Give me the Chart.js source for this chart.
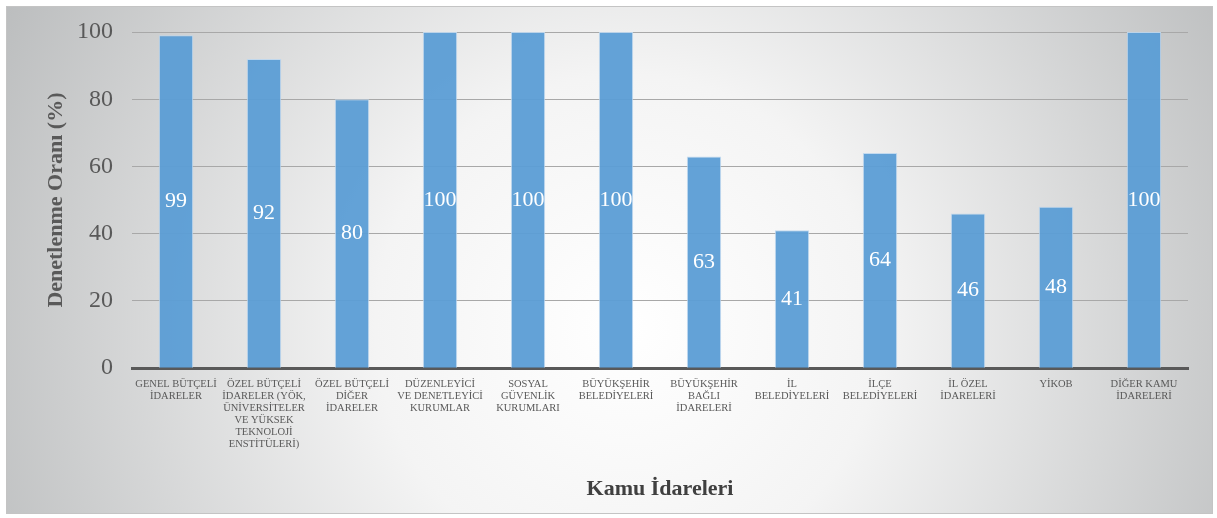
<!DOCTYPE html>
<html>
<head>
<meta charset="utf-8">
<script src="https://cdn.jsdelivr.net/npm/chart.js@4"></script>
<style>
  body { margin: 0; background: #fff; }
  #frame { position: absolute; left: 6px; top: 6px; width: 1205px; height: 506px; border: 1px solid #c4c4c4; }
</style>
</head>
<body>
<div id="frame"><canvas id="chart" width="1205" height="506"></canvas></div>
<script>
// category labels, split in lines like the original
const categories = [
  ['GENEL BÜTÇELİ', 'İDARELER'],
  ['ÖZEL BÜTÇELİ', 'İDARELER (YÖK,', 'ÜNİVERSİTELER', 'VE YÜKSEK', 'TEKNOLOJİ', 'ENSTİTÜLERİ)'],
  ['ÖZEL BÜTÇELİ', 'DİĞER', 'İDARELER'],
  ['DÜZENLEYİCİ', 'VE DENETLEYİCİ', 'KURUMLAR'],
  ['SOSYAL', 'GÜVENLİK', 'KURUMLARI'],
  ['BÜYÜKŞEHİR', 'BELEDİYELERİ'],
  ['BÜYÜKŞEHİR', 'BAĞLI', 'İDARELERİ'],
  ['İL', 'BELEDİYELERİ'],
  ['İLÇE', 'BELEDİYELERİ'],
  ['İL ÖZEL', 'İDARELERİ'],
  ['YİKOB'],
  ['DİĞER KAMU', 'İDARELERİ']
];
const rates = [99, 92, 80, 100, 100, 100, 63, 41, 64, 46, 48, 100];
const yTicks = [0, 20, 40, 60, 80, 100];

// gray-white radial background
const background = {
  id: 'background',
  beforeDraw(chart) {
    const ctx = chart.ctx;
    const w = chart.width, h = chart.height;
    const g = ctx.createRadialGradient(620, 320, 0, 620, 320, 720);
    g.addColorStop(0, '#ffffff');
    g.addColorStop(0.35, '#f4f4f4');
    g.addColorStop(1, '#b9bbbc');
    ctx.save();
    ctx.fillStyle = g;
    ctx.fillRect(0, 0, w, h);
    ctx.restore();
  }
};

// values written in the middle of each bar
const barLabels = {
  id: 'barLabels',
  afterDatasetsDraw(chart) {
    const ctx = chart.ctx;
    const meta = chart.getDatasetMeta(0);
    ctx.save();
    ctx.fillStyle = '#ffffff';
    ctx.font = '22px "Liberation Serif"';
    ctx.textAlign = 'center';
    ctx.textBaseline = 'middle';
    meta.data.forEach((bar, i) => {
      ctx.fillText(String(rates[i]), bar.x, (bar.y + bar.base) / 2);
    });
    ctx.restore();
  }
};

new Chart(document.getElementById('chart'), {
  type: 'bar',
  data: {
    labels: categories,
    datasets: [{
      data: rates,
      backgroundColor: 'rgba(91,157,213,0.95)',
      borderColor: 'rgba(190,215,238,0.9)',
      borderWidth: 1,
      categoryPercentage: 1,
      barPercentage: 0.39
    }]
  },
  options: {
    responsive: false,
    animation: false,
    layout: { padding: { top: 25, right: 24, bottom: 10, left: 0 } },
    plugins: { legend: { display: false }, tooltip: { enabled: false } },
    scales: {
      x: {
        grid: { display: false },
        border: { color: '#595959', width: 3 },
        ticks: {
          maxRotation: 0,
          autoSkip: false,
          padding: 2,
          color: '#595959',
          font: { family: 'Liberation Serif', size: 10.5, lineHeight: 1.15 }
        },
        title: {
          display: true,
          text: 'Kamu İdareleri',
          color: '#404040',
          padding: { top: 24, bottom: 0 },
          font: { family: 'Liberation Serif', size: 22, weight: 'bold' }
        }
      },
      y: {
        min: 0,
        max: 100,
        afterBuildTicks(scale) { scale.ticks = yTicks.map(v => ({ value: v })); },
        afterFit(scale) {
          scale.width = 125;
          scale.paddingTop = 0;
          scale.paddingBottom = 0;
        },
        border: { display: false },
        grid: { color: '#a8a8a8', lineWidth: 1, drawTicks: false },
        ticks: {
          padding: 19,
          color: '#595959',
          font: { family: 'Liberation Serif', size: 24 }
        },
        title: {
          display: true,
          text: 'Denetlenme Oranı (%)',
          color: '#595959',
          padding: { top: 36, bottom: 0 },
          font: { family: 'Liberation Serif', size: 22, weight: 'bold' }
        }
      }
    }
  },
  plugins: [background, barLabels]
});
</script>
</body>
</html>
